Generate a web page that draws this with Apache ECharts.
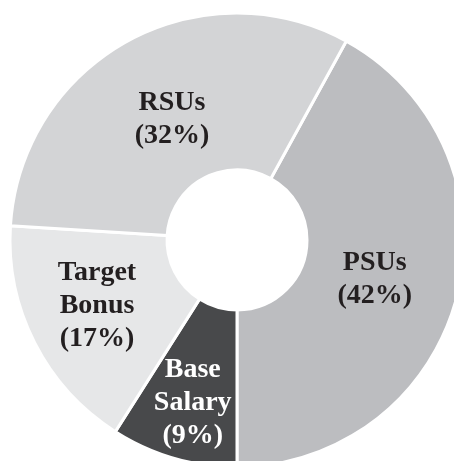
<!DOCTYPE html>
<html>
<head>
<meta charset="utf-8">
<script src="https://cdn.jsdelivr.net/npm/echarts@6/dist/echarts.min.js"></script>
<style>
html, body { margin: 0; padding: 0; background: #fff; }
#chart { width: 454px; height: 461px; }
</style>
</head>
<body>
<div id="chart"></div>
<script>
// compensation mix, clockwise from the upper right
const names = ['PSUs', 'Base\nSalary', 'Target\nBonus', 'RSUs'];
const shares = [42, 9, 17, 32];

// styling per slice
const colors = ['#bcbdc0', '#48494b', '#e6e7e8', '#d3d4d6'];
const labelColors = ['#231f20', '#ffffff', '#231f20', '#231f20'];
// small nudges so the labels sit where the original has them
const labelNudge = [[-9, 2], [-2, 17], [-5, -3], [8, 12]];

const chart = echarts.init(document.getElementById('chart'));

const option = {
    animation: false,
    series: [
        {
            type: 'pie',
            center: [237, 240],
            radius: [70, 227],
            startAngle: 61.2,
            clockwise: true,
            avoidLabelOverlap: false,
            itemStyle: {
                borderColor: '#ffffff',
                borderWidth: 3
            },
            label: {
                show: true,
                position: 'inside',
                fontFamily: '"Liberation Serif", "DejaVu Serif", serif',
                fontWeight: 'bold',
                fontSize: 28,
                lineHeight: 33,
                align: 'center',
                formatter: function (p) {
                    return p.name + '\n(' + p.value + '%)';
                }
            },
            labelLine: { show: false },
            emphasis: { disabled: true },
            data: names.map(function (n, i) {
                return {
                    name: n,
                    value: shares[i],
                    itemStyle: { color: colors[i] },
                    label: { color: labelColors[i], offset: labelNudge[i] }
                };
            })
        }
    ]
};

chart.setOption(option);
</script>
</body>
</html>
